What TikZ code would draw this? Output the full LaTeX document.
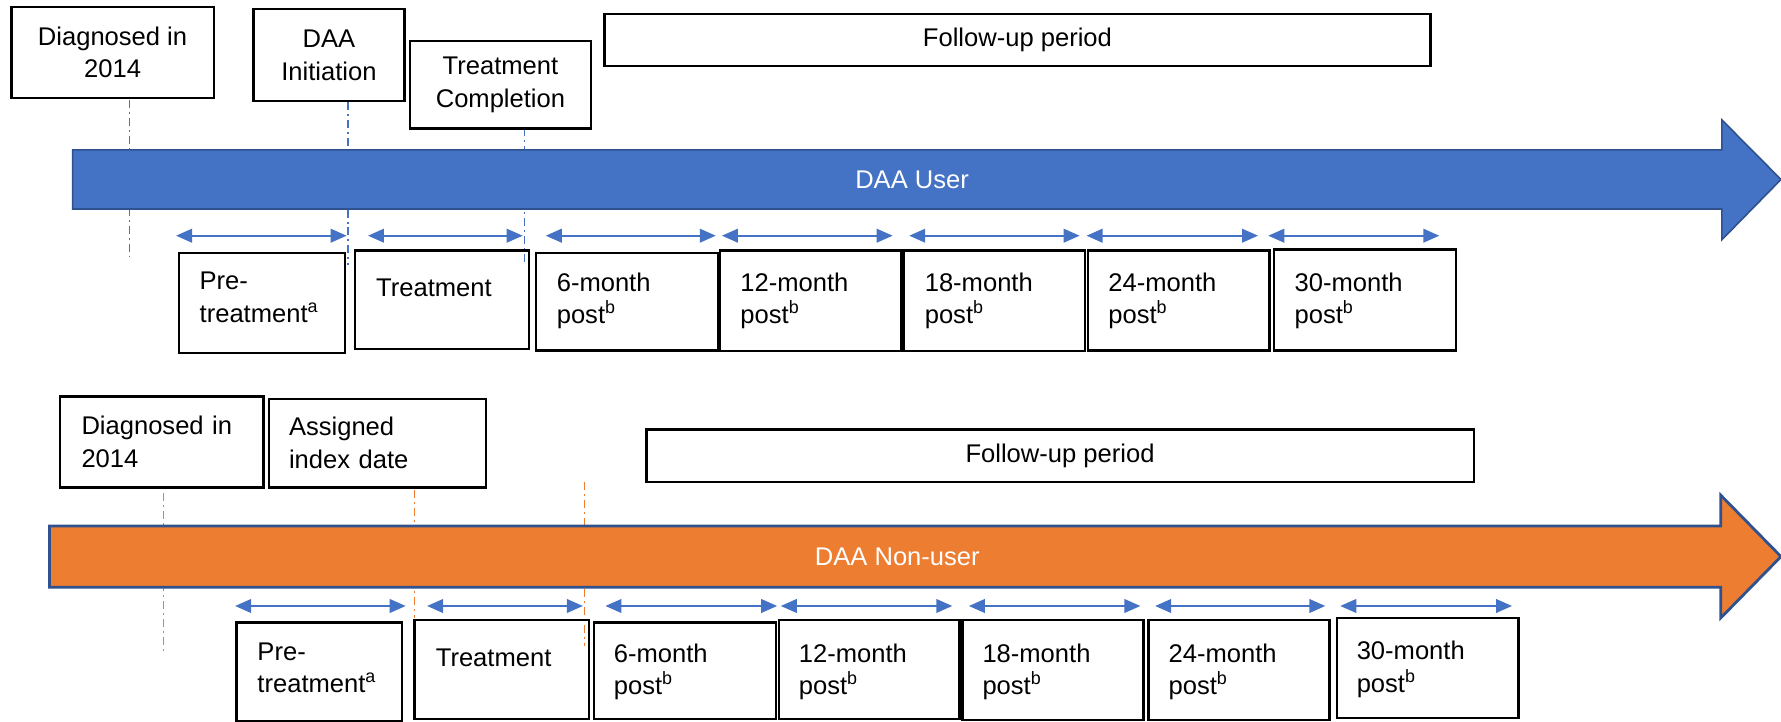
\documentclass[tikz,border=0pt]{standalone}
\usepackage{fontspec}
\setmainfont{Liberation Sans}
\usetikzlibrary{arrows.meta}
\definecolor{userblue}{HTML}{4472C4}
\definecolor{edgeblue}{HTML}{2F528F}
\definecolor{nonuserorange}{HTML}{ED7D31}
\tikzset {
    event/.style = {
        draw, line width = 0.6pt, anchor = north west, inner sep = 0pt,
        align = center, font = \fontsize{6.4}{8.2}\selectfont
    },
    period/.style = {draw, line width = 0.6pt, anchor = north west, inner sep = 0pt},
    period text/.style = {
        anchor = north west, inner sep = 0pt, align = left,
        font = \fontsize{6.4}{8.2}\selectfont
    },
    bar text/.style = {text = white, inner sep = 0pt, font = \fontsize{6.4}{8.2}\selectfont},
    span arrow/.style = {
        draw = userblue, line width = 0.5pt,
        {Triangle[length = 4pt, width = 3.4pt]}-{Triangle[length = 4pt, width = 3.4pt]}
    },
    guide/.style = {line width = 0.4pt, dash pattern = on 2pt off 1pt on 0.5pt off 1pt},
    user bar/.style = {fill = userblue, draw = edgeblue, line width = 0.4pt},
    nonuser bar/.style = {fill = nonuserorange, draw = edgeblue, line width = 0.7pt}
}
\begin{document}
\begin{tikzpicture}[x = 0.01cm, y = 0.01cm]
    \useasboundingbox (0, 0) rectangle (1568, -635);
    %
    % DAA user
    \coordinate (ga1) at (114, -88);
    \coordinate (gb1) at (114, -226);
    \coordinate (ga2) at (306.5, -89.5);
    \coordinate (gb2) at (306.5, -233);
    \coordinate (ga3) at (461.6, -113);
    \coordinate (gb3) at (461.6, -233);
    \draw [guide, userblue] (ga1) -- (gb1);
    \draw [guide, userblue] (ga2) -- (gb2);
    \draw [guide, userblue] (ga3) -- (gb3);
    \draw [user bar] (64, -132) -- (1516, -132) -- (1516, -105.6) -- (1568, -158)
        -- (1516, -211) -- (1516, -184) -- (64, -184) -- cycle;
    \node (user) [bar text] at (803, -158) {DAA User};
    \node (diag1) [event, minimum width = 1.78cm, minimum height = 0.80cm] at (9, -5) {Diagnosed in\\2014};
    \node (init1) [event, minimum width = 1.33cm, minimum height = 0.81cm] at (222, -7) {DAA\\Initiation};
    \node (comp1) [event, minimum width = 1.59cm, minimum height = 0.77cm] at (360, -35) {Treatment\\Completion};
    \node (follow1) [event, minimum width = 7.27cm, minimum height = 0.46cm] at (531, -11) {Follow-up period};
    %
    \node (pre1) [period, minimum width = 1.46cm, minimum height = 0.88cm] at (156.6, -221.5) {};
    \node (trt1) [period, minimum width = 1.53cm, minimum height = 0.865cm] at (311.5, -219.5) {};
    \node (m06a) [period, minimum width = 1.60cm, minimum height = 0.86cm] at (471, -221.5) {};
    \node (m12a) [period, minimum width = 1.60cm, minimum height = 0.885cm] at (632.7, -219.5) {};
    \node (m18a) [period, minimum width = 1.59cm, minimum height = 0.885cm] at (795, -219.5) {};
    \node (m24a) [period, minimum width = 1.60cm, minimum height = 0.88cm] at (956.6, -219.5) {};
    \node (m30a) [period, minimum width = 1.60cm, minimum height = 0.89cm] at (1120.6, -218.5) {};
    \node (pre1t) [period text] at ([shift = {(18.5, -17.5)}]pre1.north west) {Pre-\\treatment\textsuperscript{a}};
    \node (trt1t) [period text] at ([shift = {(19, -25.5)}]trt1.north west) {Treatment};
    \node (m06at) [period text] at ([shift = {(18.5, -17.7)}]m06a.north west) {6-month\\post\textsuperscript{b}};
    \node (m12at) [period text] at ([shift = {(18.5, -19.7)}]m12a.north west) {12-month\\post\textsuperscript{b}};
    \node (m18at) [period text] at ([shift = {(18.5, -19.7)}]m18a.north west) {18-month\\post\textsuperscript{b}};
    \node (m24at) [period text] at ([shift = {(18.5, -19.7)}]m24a.north west) {24-month\\post\textsuperscript{b}};
    \node (m30at) [period text] at ([shift = {(18.5, -20.7)}]m30a.north west) {30-month\\post\textsuperscript{b}};
    \draw [span arrow] ([shift = {(-1.6, 14)}]pre1.north west) -- ([shift = {(0.4, 14)}]pre1.north east);
    \draw [span arrow] ([shift = {(12.5, 12)}]trt1.north west) -- ([shift = {(-6.5, 12)}]trt1.north east);
    \draw [span arrow] ([shift = {(9.5, 14)}]m06a.north west) -- ([shift = {(-3, 14)}]m06a.north east);
    \draw [span arrow] ([shift = {(2.9, 12)}]m12a.north west) -- ([shift = {(-9, 12)}]m12a.north east);
    \draw [span arrow] ([shift = {(5.5, 12)}]m18a.north west) -- ([shift = {(-5.7, 12)}]m18a.north east);
    \draw [span arrow] ([shift = {(0, 12)}]m24a.north west) -- ([shift = {(-11.2, 12)}]m24a.north east);
    \draw [span arrow] ([shift = {(-4, 11)}]m30a.north west) -- ([shift = {(-15.6, 11)}]m30a.north east);
    %
    % DAA non-user
    \coordinate (ha1) at (144, -434);
    \coordinate (hb1) at (144, -573.6);
    \coordinate (ha2) at (364.8, -431);
    \coordinate (hb2) at (364.8, -544);
    \coordinate (ha3) at (514.5, -424);
    \coordinate (hb3) at (514.5, -569);
    \draw [guide, nonuserorange] (ha1) -- (hb1);
    \draw [guide, nonuserorange] (ha2) -- (hb2);
    \draw [guide, nonuserorange] (ha3) -- (hb3);
    \draw [nonuser bar] (43.5, -463) -- (1515, -463) -- (1515, -436) -- (1568, -490)
        -- (1515, -544) -- (1515, -517) -- (43.5, -517) -- cycle;
    \node (nonuser) [bar text] at (790, -490) {DAA Non-user};
    \node (diag2) [event, align = left, text width = 1.416cm, inner xsep = 0.187cm,
        minimum height = 0.80cm] at (52, -348) {Diagnosed in\\2014};
    \node (assn2) [event, align = left, text width = 1.554cm, inner xsep = 0.178cm,
        minimum height = 0.78cm] at (235.6, -350) {Assigned\\index date};
    \node (follow2) [event, minimum width = 7.28cm, minimum height = 0.46cm] at (568, -377) {Follow-up period};
    %
    \node (pre2) [period, minimum width = 1.46cm, minimum height = 0.87cm] at (207, -547) {};
    \node (trt2) [period, minimum width = 1.536cm, minimum height = 0.87cm] at (364, -545) {};
    \node (m06b) [period, minimum width = 1.60cm, minimum height = 0.85cm] at (521.8, -547) {};
    \node (m12b) [period, minimum width = 1.59cm, minimum height = 0.87cm] at (684.6, -545) {};
    \node (m18b) [period, minimum width = 1.594cm, minimum height = 0.88cm] at (846.3, -545) {};
    \node (m24b) [period, minimum width = 1.59cm, minimum height = 0.88cm] at (1010.2, -545) {};
    \node (m30b) [period, minimum width = 1.60cm, minimum height = 0.88cm] at (1175.8, -543) {};
    \node (pre2t) [period text] at ([shift = {(19, -18)}]pre2.north west) {Pre-\\treatment\textsuperscript{a}};
    \node (trt2t) [period text] at ([shift = {(19, -25.7)}]trt2.north west) {Treatment};
    \node (m06bt) [period text] at ([shift = {(18, -19)}]m06b.north west) {6-month\\post\textsuperscript{b}};
    \node (m12bt) [period text] at ([shift = {(18, -21)}]m12b.north west) {12-month\\post\textsuperscript{b}};
    \node (m18bt) [period text] at ([shift = {(18, -21)}]m18b.north west) {18-month\\post\textsuperscript{b}};
    \node (m24bt) [period text] at ([shift = {(18, -21)}]m24b.north west) {24-month\\post\textsuperscript{b}};
    \node (m30bt) [period text] at ([shift = {(18, -21)}]m30b.north west) {30-month\\post\textsuperscript{b}};
    \draw [span arrow] ([shift = {(0, 13.5)}]pre2.north west) -- ([shift = {(2, 13.5)}]pre2.north east);
    \draw [span arrow] ([shift = {(12, 11.5)}]trt2.north west) -- ([shift = {(-6.6, 11.5)}]trt2.north east);
    \draw [span arrow] ([shift = {(11.2, 13.5)}]m06b.north west) -- ([shift = {(0.2, 13.5)}]m06b.north east);
    \draw [span arrow] ([shift = {(2.8, 11.5)}]m12b.north west) -- ([shift = {(-7.4, 11.5)}]m12b.north east);
    \draw [span arrow] ([shift = {(6.7, 11.5)}]m18b.north west) -- ([shift = {(-3.9, 11.5)}]m18b.north east);
    \draw [span arrow] ([shift = {(6.8, 11.5)}]m24b.north west) -- ([shift = {(-4.6, 11.5)}]m24b.north east);
    \draw [span arrow] ([shift = {(4.2, 9.5)}]m30b.north west) -- ([shift = {(-6.8, 9.5)}]m30b.north east);
\end{tikzpicture}
\end{document}
